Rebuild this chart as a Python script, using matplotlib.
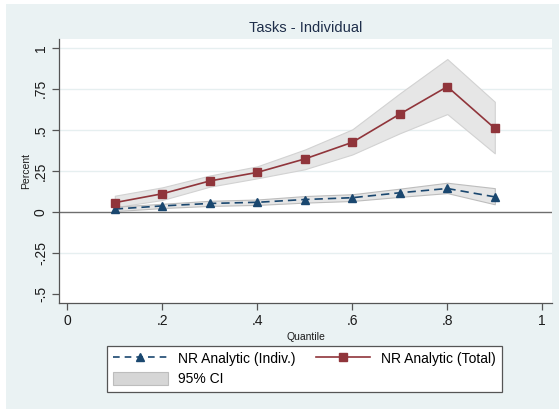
import matplotlib
matplotlib.use("Agg")
import matplotlib.pyplot as plt
from matplotlib.patches import Rectangle, Patch
from matplotlib.lines import Line2D

plt.rcParams['font.family'] = ['Liberation Sans', 'DejaVu Sans']

quantiles = [0.1, 0.2, 0.3, 0.4, 0.5, 0.6, 0.7, 0.8, 0.9]
indiv = [0.018, 0.037, 0.052, 0.059, 0.076, 0.087, 0.117, 0.143, 0.092]
indiv_lo = [0.005, 0.024, 0.037, 0.043, 0.057, 0.067, 0.092, 0.115, 0.047]
indiv_hi = [0.032, 0.050, 0.068, 0.076, 0.097, 0.108, 0.142, 0.178, 0.145]
total = [0.057, 0.111, 0.189, 0.241, 0.323, 0.424, 0.596, 0.763, 0.509]
total_lo = [0.029, 0.073, 0.154, 0.205, 0.260, 0.350, 0.479, 0.596, 0.357]
total_hi = [0.099, 0.150, 0.222, 0.278, 0.380, 0.503, 0.722, 0.931, 0.671]
xticks = [0, 0.2, 0.4, 0.6, 0.8, 1]
xticklabels = ['0', '.2', '.4', '.6', '.8', '1']
yticks = [-0.5, -0.25, 0, 0.25, 0.5, 0.75, 1]
yticklabels = ['-.5', '-.25', '0', '.25', '.5', '.75', '1']

W, H = 559, 409
fig = plt.figure(figsize=(W / 100, H / 100), dpi=100)
fig.patch.set_facecolor('white')
bg = '#EAF2F3'
fig.patches.append(Rectangle((6 / W, 0), 1 - 6 / W, 1 - 4 / H, transform=fig.transFigure,
                             facecolor=bg, edgecolor='none', zorder=-10))

ax = fig.add_axes([59 / W, 1 - 303 / H, (552 - 59) / W, (303 - 39) / H])
ax.set_facecolor('white')

navy = '#1A476F'
maroon = '#90353B'
ci_face = '#E6E6E6'
ci_edge = '#D2D2D2'

for yv in [-0.25, 0.25, 0.5, 0.75, 1]:
    ax.axhline(yv, color='#E6EFF0', lw=1.0, zorder=0)
ax.axhline(0, color='#6E6E6E', lw=1.0, zorder=1)

ax.fill_between(quantiles, total_lo, total_hi, facecolor=ci_face, edgecolor=ci_edge, lw=0.8, zorder=2)
ax.fill_between(quantiles, indiv_lo, indiv_hi, facecolor=ci_face, edgecolor='#BDBDBD', lw=0.8, zorder=2)
ax.plot(quantiles, indiv, color=navy, ls=(0, (5, 3)), lw=1.2, marker='^', ms=6, zorder=4)
ax.plot(quantiles, total, color=maroon, ls='-', lw=1.2, marker='s', ms=5.8, zorder=4)

ax.set_xlim((59 - 67.3) / 475, (552 - 67.3) / 475)
ax.set_ylim(-0.554, 1.053)
ax.set_xticks(xticks)
ax.set_xticklabels(xticklabels, fontsize=10)
ax.set_yticks(yticks)
ax.set_yticklabels(yticklabels, fontsize=10, rotation=90, va='center')
ax.tick_params(axis='both', direction='out', length=5, width=0.9, color='#555555', labelcolor='#1a1a1a', pad=3)

for s in ['top', 'right']:
    ax.spines[s].set_visible(False)
for s in ['left', 'bottom']:
    ax.spines[s].set_color('#555555')
    ax.spines[s].set_linewidth(0.9)

ax.set_xlabel('Quantile', fontsize=7.5, labelpad=3, color='#1a1a1a')
ax.set_ylabel('Percent', fontsize=7.5, labelpad=2, color='#1a1a1a')
fig.text(305.5 / W, 1 - 28 / H, 'Tasks - Individual', ha='center', va='center', fontsize=10.5, color='#1E2E4A')

h_indiv = Line2D([], [], color=navy, ls=(0, (4, 3)), lw=1.2, marker='^', ms=5.5)
h_total = Line2D([], [], color=maroon, ls='-', lw=1.2, marker='s', ms=5.3)
h_ci = Patch(facecolor='#D6D6D6', edgecolor='#BDBDBD', lw=0.8)
leg = fig.legend([h_indiv, h_ci, h_total], ['NR Analytic (Indiv.)', '95% CI', 'NR Analytic (Total)'],
                 ncol=2, loc='center', bbox_to_anchor=(304.5 / W, 1 - 369 / H),
                 fontsize=10, frameon=True, fancybox=False, handlelength=3.9, handleheight=1.0,
                 handletextpad=0.75, columnspacing=1.5, labelspacing=0.45, borderpad=0.45,
                 edgecolor='#555555', facecolor='white', framealpha=1)
leg.get_frame().set_linewidth(0.9)

fig.savefig('out.png', dpi=100, facecolor=fig.get_facecolor())
